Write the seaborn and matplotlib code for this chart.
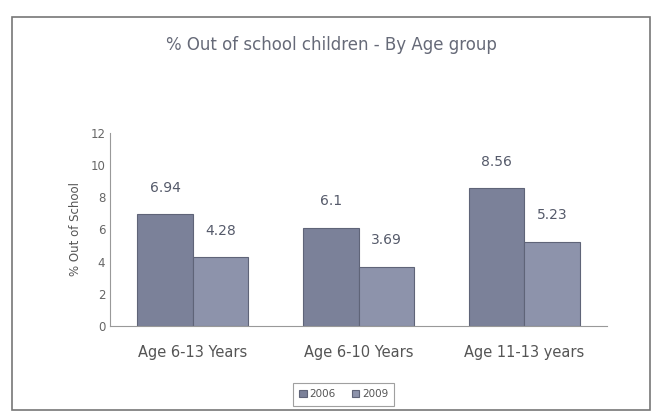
import matplotlib
matplotlib.use("Agg")
import matplotlib.pyplot as plt
import seaborn as sns
import pandas as pd
from matplotlib.patches import Rectangle

categories = ["Age 6-13 Years", "Age 6-10 Years", "Age 11-13 years"]
years = ["2006", "2009"]
values_2006 = [6.94, 6.1, 8.56]
values_2009 = [4.28, 3.69, 5.23]
yticks = [0, 2, 4, 6, 8, 10, 12]

df = pd.DataFrame({
    "Age group": categories * 2,
    "Year": [years[0]] * 3 + [years[1]] * 3,
    "Value": values_2006 + values_2009,
})

sns.set_theme(style="white")
plt.rcParams["font.family"] = ["DejaVu Sans"]

fig = plt.figure(figsize=(6.63, 4.13), dpi=100)
fig.patch.set_facecolor("white")
ax = fig.add_axes([0.166, 0.211, 0.75, 0.467])

palette = {"2006": "#7b8199", "2009": "#8d93ab"}
sns.barplot(data=df, x="Age group", y="Value", hue="Year", palette=palette,
            width=0.67, edgecolor="#5f6478", linewidth=0.8, saturation=1,
            ax=ax, legend=True)

for cont in ax.containers:
    ax.bar_label(cont, labels=[f"{v:g}" for v in cont.datavalues],
                 padding=14, fontsize=10, color="#555a6a")

ax.set_ylim(0, 12)
ax.set_yticks(yticks)
ax.set_xlim(-0.5, 2.5)
ax.tick_params(axis="y", labelsize=8.5, colors="#666666", length=3, direction="in")
ax.tick_params(axis="x", labelsize=10.5, colors="#555555", length=0, pad=14)
ax.set_ylabel("% Out of School", fontsize=8.5, color="#555555", labelpad=6)
ax.set_xlabel("")
for s in ["top", "right"]:
    ax.spines[s].set_visible(False)
for s in ["left", "bottom"]:
    ax.spines[s].set_color("#999999")
    ax.spines[s].set_linewidth(0.8)
ax.set_facecolor("none")
ax.set_xticks([-0.5, 0.5, 1.5, 2.5], minor=True)
ax.tick_params(axis="x", which="minor", length=4, color="#999999", direction="out")
ax.set_xticks([0, 1, 2])
ax.set_xticklabels(categories)

leg = ax.legend(loc="upper center", bbox_to_anchor=(0.47, -0.27), ncol=2,
                fontsize=7.5, frameon=True, handlelength=0.7, handletextpad=0.3,
                columnspacing=1.5, borderpad=0.6)
leg.get_frame().set_edgecolor("#888888")
leg.get_frame().set_linewidth(0.8)
leg.get_frame().set_boxstyle("square", pad=0)
for t in leg.get_texts():
    t.set_color("#555555")

fig.text(0.5, 0.89, "% Out of school children - By Age group", ha="center",
         va="center", fontsize=12, color="#666a78")

fig.patches.append(Rectangle((0.018, 0.008), 0.962, 0.95, transform=fig.transFigure,
                             fill=False, edgecolor="#777777", linewidth=1.2))

fig.savefig("out.png", dpi=100)
